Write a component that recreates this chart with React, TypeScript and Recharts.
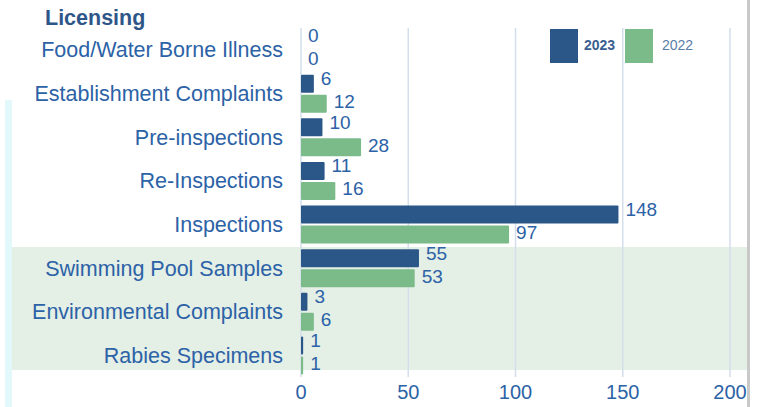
import React from "react";
import { BarChart, Bar, XAxis, YAxis, CartesianGrid, LabelList } from "recharts";

const categories = [
  "Food/Water Borne Illness",
  "Establishment Complaints",
  "Pre-inspections",
  "Re-Inspections",
  "Inspections",
  "Swimming Pool Samples",
  "Environmental Complaints",
  "Rabies Specimens",
];
const values2023 = [0, 6, 10, 11, 148, 55, 3, 1];
const values2022 = [0, 12, 28, 16, 97, 53, 6, 1];
const xTicks = [0, 50, 100, 150, 200];

const data = categories.map((name, i) => ({ name, y2023: values2023[i], y2022: values2022[i] }));

const BLUE = "#2B5788";
const GREEN = "#7BBB8A";
const TEXT = "#2C62A6";
const FONT = "'Liberation Sans', Arial, sans-serif";

const valueLabel = (dy: number) => (props: any) => {
  const { x, y, width, height, value } = props;
  const w = Number(value) === 0 ? 0 : Number(width);
  return (
    <text
      x={Number(x) + w + 7}
      y={Number(y) + Number(height) / 2 + dy}
      fill={TEXT}
      fontSize={19}
      fontFamily={FONT}
      dominantBaseline="central"
    >
      {value}
    </text>
  );
};

export default function App() {
  return (
    <div style={{ position: "fixed", left: 0, top: 0, width: 759, height: 407, background: "#fff", overflow: "hidden", fontFamily: FONT }}>
      {/* left cyan strip and shaded band behind the last three rows */}
      <div style={{ position: "absolute", left: 5, top: 100, width: 7, height: 307, background: "#E3F8FA" }} />
      <div style={{ position: "absolute", left: 12, top: 247, width: 736, height: 123, background: "#E4EFE6" }} />

      <div style={{ position: "absolute", left: 45, top: 6, fontSize: 21.5, fontWeight: "bold", color: "#2F5689" }}>
        Licensing
      </div>

      <div style={{ position: "absolute", left: 0, top: 0 }}>
        <BarChart
          width={759}
          height={407}
          data={data}
          layout="vertical"
          margin={{ top: 28, right: 29, bottom: 0, left: 0 }}
          barSize={18}
          barGap={2}
        >
          <CartesianGrid vertical horizontal={false} stroke="#D3DFEA" strokeWidth={1.5} />
          <XAxis
            type="number"
            domain={[0, 200]}
            ticks={xTicks}
            axisLine={false}
            tickLine={false}
            height={30}
            tick={{ fill: TEXT, fontSize: 20, fontFamily: FONT }}
          />
          <YAxis
            type="category"
            dataKey="name"
            width={301}
            axisLine={false}
            tickLine={false}
            tickMargin={12}
            interval={0}
            tick={{ fill: TEXT, fontSize: 21.5, fontFamily: FONT }}
          />
          <Bar dataKey="y2023" fill={BLUE} radius={1} minPointSize={0.01} isAnimationActive={false}>
            <LabelList dataKey="y2023" content={valueLabel(-5)} />
          </Bar>
          <Bar dataKey="y2022" fill={GREEN} radius={1} minPointSize={0.01} isAnimationActive={false}>
            <LabelList dataKey="y2022" content={valueLabel(-2)} />
          </Bar>
        </BarChart>
      </div>

      {/* legend */}
      <div style={{ position: "absolute", left: 550, top: 29, width: 28, height: 34, background: BLUE }} />
      <div style={{ position: "absolute", left: 584, top: 37, fontSize: 14, fontWeight: "bold", color: "#3A5F8F" }}>2023</div>
      <div style={{ position: "absolute", left: 625, top: 29, width: 28, height: 34, background: GREEN }} />
      <div style={{ position: "absolute", left: 662, top: 37, fontSize: 14, color: "#5A7DA8" }}>2022</div>

      {/* right page edge */}
      <div style={{ position: "absolute", left: 747, top: 0, width: 12, height: 407, background: "#fff", borderLeft: "3px solid #C9C9C9" }} />
    </div>
  );
}
